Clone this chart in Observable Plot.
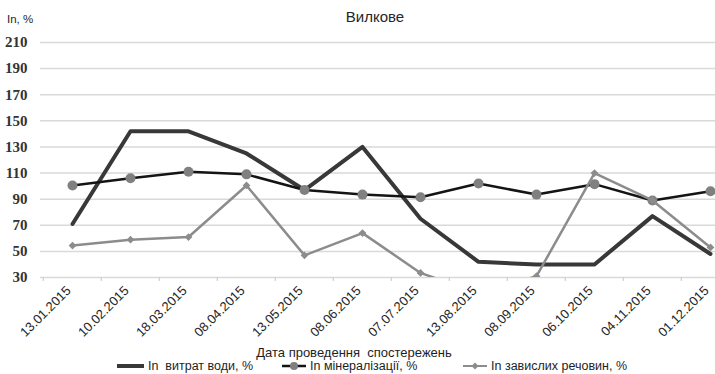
<!DOCTYPE html>
<html><head><meta charset="utf-8">
<script src="https://cdn.jsdelivr.net/npm/d3@7"></script>
<script src="https://cdn.jsdelivr.net/npm/@observablehq/plot@0.6"></script>
<style>
body{margin:0;background:#fff;}
#wrap{position:relative;width:715px;height:374px;overflow:hidden;font-family:"Liberation Sans",Arial,sans-serif;color:#262626;}
.abs{position:absolute;white-space:nowrap;line-height:1;}
.leg{position:absolute;top:360px;display:flex;align-items:center;font-size:12.5px;line-height:1;white-space:nowrap;color:#1e1e1e;}
.leg svg{margin-right:4px;}
</style></head><body><div id="wrap"></div>
<script>
const title = "Вилкове";
const yLabel = "In, %";
const xTitle = "Дата проведення  спостережень";
const dates = ["13.01.2015","10.02.2015","18.03.2015","08.04.2015","13.05.2015","08.06.2015","07.07.2015","13.08.2015","08.09.2015","06.10.2015","04.11.2015","01.12.2015"];
const waterFlow = [71, 142, 142, 125, 97, 130, 75, 42, 40, 40, 77, 48];
const mineralization = [100.5, 106, 111, 109, 97, 93.5, 91.5, 102, 93.5, 101.5, 89, 96];
const suspended = [54.5, 59, 61, 100.5, 47, 64, 33.5, 18, 31, 110, 89, 53];
const yTicks = [30, 50, 70, 90, 110, 130, 150, 170, 190, 210];
const seriesNames = ["In  витрат води, %", "In мінералізації, %", "In завислих речовин, %"];

const rows = dates.map((d, i) => ({date: d, water: waterFlow[i], mineral: mineralization[i], susp: suspended[i]}));

const cWater = "#383838", cMinLine = "#141414", cMinDot = "#808080", cSusp = "#8c8c8c";

const chart = Plot.plot({
  width: 715, height: 374,
  marginTop: 42, marginBottom: 97, marginLeft: 40, marginRight: 0,
  style: {fontFamily: '"Liberation Sans", Arial, sans-serif', background: "transparent", overflow: "visible"},
  x: {type: "point", domain: dates, range: [69.3, 711.7], padding: 0, axis: null},
  y: {domain: [30, 210], axis: null},
  marks: [
    Plot.ruleY(yTicks, {stroke: "#d9d9d9", strokeWidth: 1.5}),
    Plot.ruleX(dates, {x: d => d, y1: 30, y2: 27, dx: -29.2, stroke: "#cfcfcf", strokeWidth: 1.2}),
    Plot.axisY(yTicks, {tickSize: 0, tickPadding: 13, fontFamily: '"Liberation Serif", "Times New Roman", serif', fontSize: 15, fontWeight: "bold", fill: "#333", label: null}),
    Plot.text(dates, {x: d => d, frameAnchor: "bottom", rotate: -45, textAnchor: "end", dx: -1, dy: 14, fontSize: 13, fill: "#262626"}),
    Plot.line(rows, {x: "date", y: "water", stroke: cWater, strokeWidth: 4, clip: "frame"}),
    Plot.line(rows, {x: "date", y: "mineral", stroke: cMinLine, strokeWidth: 2.5, clip: "frame"}),
    Plot.dot(rows, {x: "date", y: "mineral", r: 5, fill: cMinDot, stroke: "none", clip: "frame"}),
    Plot.line(rows, {x: "date", y: "susp", stroke: cSusp, strokeWidth: 2.5, clip: "frame"}),
    Plot.dot(rows, {x: "date", y: "susp", r: 3.5, symbol: "diamond2", fill: cSusp, stroke: "none", clip: "frame"})
  ]
});

const wrap = document.getElementById("wrap");
wrap.appendChild(chart);
chart.style.position = "absolute"; chart.style.left = "0"; chart.style.top = "0";

function addText(txt, left, top, size, extra) {
  const el = document.createElement("div");
  el.className = "abs";
  el.textContent = txt;
  el.style.left = left + "px"; el.style.top = top + "px"; el.style.fontSize = size + "px";
  if (extra) Object.assign(el.style, extra);
  wrap.appendChild(el);
  return el;
}
addText(title, 375, 9, 15, {transform: "translateX(-50%)", color: "#262626"});
addText(yLabel, 7, 14, 11.5, {color: "#262626"});
addText(xTitle, 354, 346, 13, {transform: "translateX(-50%)", whiteSpace: "pre", color: "#1e1e1e"});

// legend
const swatches = [
  `<svg width="27" height="10"><line x1="0" y1="5" x2="27" y2="5" stroke="${cWater}" stroke-width="4"/></svg>`,
  `<svg width="24" height="10"><line x1="0" y1="5" x2="24" y2="5" stroke="${cMinLine}" stroke-width="2.5"/><circle cx="12" cy="5" r="4" fill="${cMinDot}"/></svg>`,
  `<svg width="24" height="10"><line x1="0" y1="5" x2="24" y2="5" stroke="${cSusp}" stroke-width="2"/><path d="M12,1.5L15.5,5L12,8.5L8.5,5Z" fill="${cSusp}"/></svg>`
];
const legLeft = [117, 282, 463];
seriesNames.forEach((n, i) => {
  const el = document.createElement("div");
  el.className = "leg";
  el.style.left = legLeft[i] + "px";
  el.innerHTML = swatches[i] + `<span style="white-space:pre">${n}</span>`;
  wrap.appendChild(el);
});
</script></body></html>
